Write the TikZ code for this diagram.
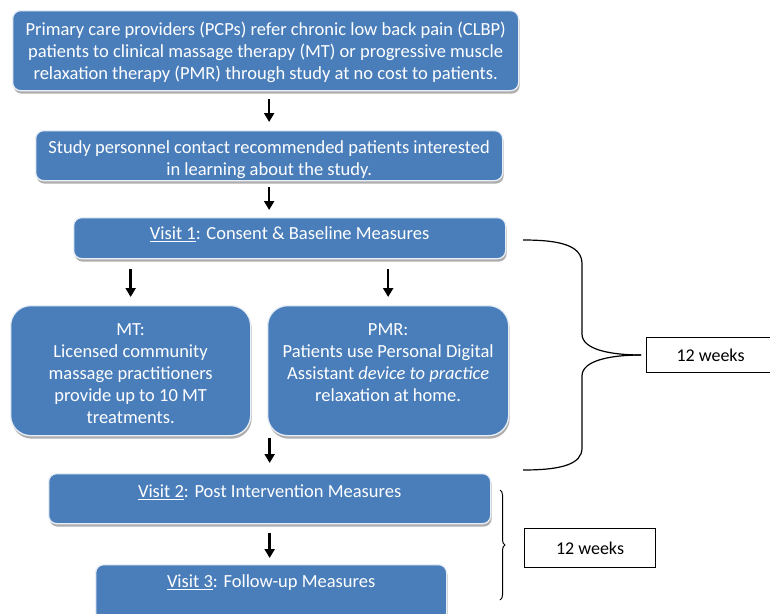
\documentclass[tikz,border=0pt]{standalone}
\usepackage{fontspec}
\setmainfont{Carlito}
\usepackage{xcolor}
\usepackage{tikz}
\usetikzlibrary{positioning}
\usetikzlibrary{arrows.meta}
\usetikzlibrary{shadows}
\usetikzlibrary{decorations.pathreplacing}

\definecolor{boxblue}{RGB}{74,126,187}
\definecolor{boxedge}{RGB}{232,238,246}

\tikzset{
  bluebox/.style={anchor=north west, rounded corners=8pt, fill=boxblue, draw=boxedge, line width=1.3pt,
    text=white, align=center, inner sep=0pt, font=\fontsize{18.5}{22}\selectfont,
    drop shadow={shadow xshift=1pt, shadow yshift=-3pt, fill=black!45, opacity=0.7}},
  weeksbox/.style={anchor=north west, draw=black, line width=1pt, inner sep=0pt, font=\fontsize{18}{20}\selectfont},
  arr/.style={-{Triangle[width=10pt,length=9pt]}, line width=2.6pt},
  brace line/.style={line width=1.2pt}
}

\begin{document}
\begin{tikzpicture}[x=1pt, y=-1pt]
        \useasboundingbox (0, 0) rectangle (770, 613);
        \node [bluebox, minimum width=506, text height=69, text depth=11] (prov) at (12, 10)
          {Primary care providers (PCPs) refer chronic low back pain (CLBP)\\
           patients to clinical massage therapy (MT) or progressive muscle\\
           relaxation therapy (PMR) through study at no cost to patients.};
        \node [bluebox, minimum width=467, text height=45, text depth=5] (contact) at (35, 130)
          {Study personnel contact recommended patients interested\\ in learning about the study.};
        \node [bluebox, minimum width=432, text height=22, text depth=19] (visit1) at (73, 217)
          {\underline{Visit 1}: Consent \& Baseline Measures};
        \node [bluebox, rounded corners=20pt, minimum width=240, text height=118, text depth=12] (mt) at (10, 305)
          {MT:\\ Licensed community\\ massage practitioners\\ provide up to 10 MT\\ treatments.};
        \node [bluebox, rounded corners=20pt, minimum width=241, text height=96, text depth=34] (pmr) at (267, 305)
          {PMR:\\ Patients use Personal Digital\\ Assistant \emph{device to practice}\\ relaxation at home.};
        \node [bluebox, minimum width=442, text height=24, text depth=26] (visit2) at (48, 473)
          {\underline{Visit 2}: Post Intervention Measures};
        \node [bluebox, minimum width=351, text height=23, text depth=33] (visit3) at (95, 564)
          {\underline{Visit 3}: Follow-up Measures};
        \node [weeksbox, minimum width=128, minimum height=35] (weeksA) at (646, 337) {12 weeks};
        \node [weeksbox, minimum width=131, minimum height=39] (weeksB) at (524, 528) {12 weeks};
        \draw [arr, shorten <=8pt, shorten >=8pt] (contact.north |- prov.south) -- (contact.north);
        \draw [arr, shorten <=6pt, shorten >=7pt] (contact.south) -- (contact.south |- visit1.north);
        \draw [arr, shorten <=10pt, shorten >=8pt] (mt.north |- visit1.south) -- (mt.north);
        \draw [arr, shorten <=10pt, shorten >=8pt] (pmr.north |- visit1.south) -- (pmr.north);
        \draw [arr, shorten <=2pt, shorten >=10pt] (visit2.north |- pmr.south) -- (visit2.north);
        \draw [arr, shorten <=9pt, shorten >=6pt] (visit2.south) -- (visit2.south |- visit3.north);
        \coordinate (braceTop) at (523, 240);
        \coordinate (braceBot) at (523, 470);
        \coordinate (braceTip) at ([xshift=-5pt]weeksA.west);
        \draw [brace line] (braceTop) .. controls (562, 240) and (582, 246) .. (582, 264) -- (582, 334)
          .. controls (582, 350) and (612, 355) .. (braceTip);
        \draw [brace line] (braceTip) .. controls (612, 355) and (582, 360) .. (582, 376) -- (582, 448)
          .. controls (582, 464) and (562, 470) .. (braceBot);
        \coordinate (smallTop) at (500, 490);
        \coordinate (smallBot) at (500, 600);
        \draw [line width=1pt, decorate, decoration={brace, amplitude=5pt}] (smallTop) -- (smallBot);
      \end{tikzpicture}
\end{document}
